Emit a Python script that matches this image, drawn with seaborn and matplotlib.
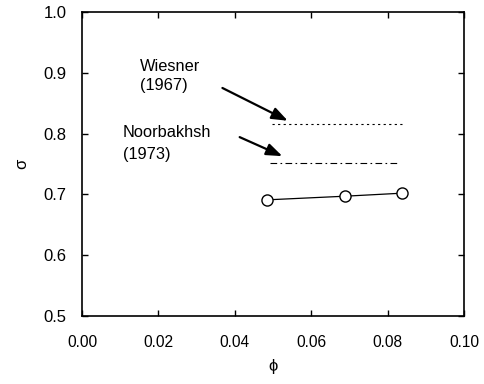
import matplotlib
matplotlib.use("Agg")
import matplotlib.pyplot as plt
import seaborn as sns
import pandas as pd

phi = [0.0484, 0.0688, 0.0838]
sigma = [0.691, 0.697, 0.702]
wiesner_phi = [0.0497, 0.0838]
wiesner_sigma = [0.816, 0.816]
noor_phi = [0.0492, 0.0833]
noor_sigma = [0.752, 0.752]
xticks = [0.00, 0.02, 0.04, 0.06, 0.08, 0.10]
yticks = [0.5, 0.6, 0.7, 0.8, 0.9, 1.0]

sns.set_theme(style="ticks", rc={"text.color": "black", "axes.labelcolor": "black",
                                 "xtick.color": "black", "ytick.color": "black"})
plt.rcParams['font.family'] = ['Liberation Sans', 'DejaVu Sans']

fig = plt.figure(figsize=(4.85, 3.84), dpi=100)
ax = fig.add_axes([0.169, 0.177, 0.788, 0.792])

df = pd.DataFrame({"phi": phi, "sigma": sigma})
sns.lineplot(data=df, x="phi", y="sigma", ax=ax, color="black", lw=0.9,
             marker="o", markersize=8, markerfacecolor="white",
             markeredgecolor="black", markeredgewidth=1.0)
sns.lineplot(x=wiesner_phi, y=wiesner_sigma, ax=ax, color="black", lw=0.8,
             linestyle=(0, (2, 3)))
sns.lineplot(x=noor_phi, y=noor_sigma, ax=ax, color="black", lw=0.8,
             linestyle=(0, (6, 3, 1.5, 3)))

ax.annotate("", xy=(0.0545, 0.819), xytext=(0.0361, 0.877),
            arrowprops=dict(arrowstyle="-|>,head_length=0.8,head_width=0.3",
                            color="black", lw=1.6))
ax.annotate("", xy=(0.0531, 0.761), xytext=(0.0406, 0.796),
            arrowprops=dict(arrowstyle="-|>,head_length=0.8,head_width=0.3",
                            color="black", lw=1.6))
fs = 11.8
ax.text(0.0152, 0.911, "Wiesner", fontsize=fs, va="center", ha="left")
ax.text(0.0152, 0.879, "(1967)", fontsize=fs, va="center", ha="left")
ax.text(0.0107, 0.801, "Noorbakhsh", fontsize=fs, va="center", ha="left")
ax.text(0.0107, 0.766, "(1973)", fontsize=fs, va="center", ha="left")

ax.set_xlim(0, 0.10)
ax.set_ylim(0.5, 1.0)
ax.set_xticks(xticks)
ax.set_xticklabels([f"{v:.2f}" for v in xticks])
ax.set_yticks(yticks)
ax.set_yticklabels([f"{v:.1f}" for v in yticks])
ax.tick_params(direction="in", top=True, right=True, length=4, width=1,
               colors="black")
ax.tick_params(axis="x", labelsize=11.2, pad=14)
ax.tick_params(axis="y", labelsize=12, pad=11)
for s in ax.spines.values():
    s.set_linewidth(1.2)
    s.set_color("black")
ax.set_xlabel("ϕ", fontsize=12, labelpad=6)
ax.set_ylabel("σ", fontsize=12, labelpad=10)

fig.savefig("out.png", dpi=100, facecolor="white")
